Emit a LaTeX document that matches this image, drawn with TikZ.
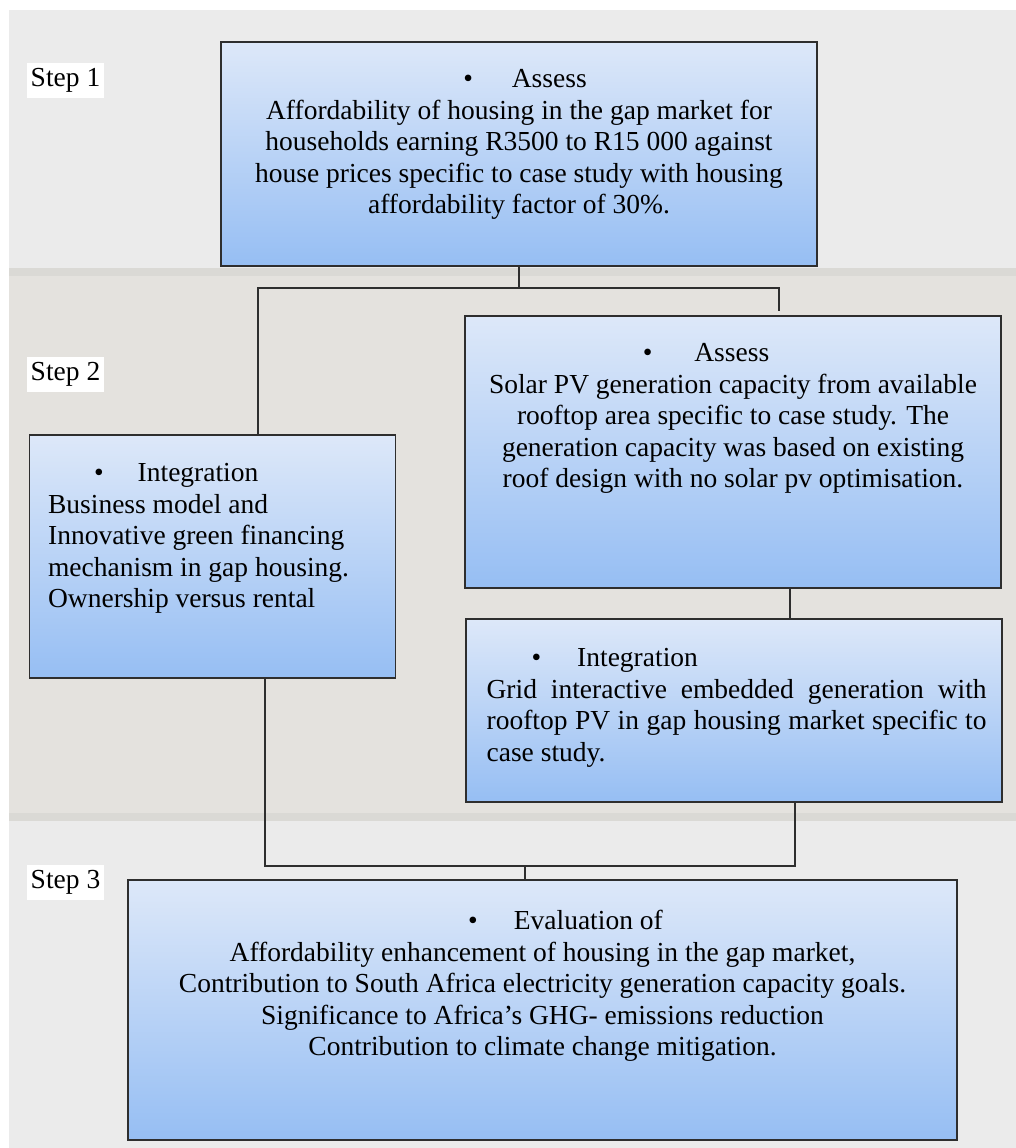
\documentclass[tikz,border=0pt]{standalone}
\usepackage{fontspec}
\setmainfont{Liberation Serif}
\usetikzlibrary{positioning}
\definecolor{bandgrey}{HTML}{EBEBEB}
\definecolor{bandbeige}{HTML}{E4E2DE}
\definecolor{bandedge}{HTML}{DAD9D5}
\definecolor{boxtop}{HTML}{DDE8F9}
\definecolor{boxbot}{HTML}{96BEF3}
\definecolor{linegrey}{HTML}{2E2E2E}

\begin{document}
\begin{tikzpicture}[x=1pt,y=1pt,
  txt/.style={inner sep=0pt,font=\fontsize{27.5}{31.5}\selectfont},
  stepbox/.style={draw=linegrey,line width=1.2pt,top color=boxtop,bottom color=boxbot,inner sep=0pt},
  steplabel/.style={txt,fill=white,inner xsep=3.5pt,minimum height=35pt},
  link/.style={draw=linegrey,line width=1.1pt}]
\useasboundingbox (0,0) rectangle (1016,-1148);
\fill [bandgrey] (9,-10) rectangle (1016,-268);
\fill [bandbeige] (9,-268) rectangle (1016,-820);
\fill [bandgrey] (9,-820) rectangle (1016,-1148);
\fill [bandedge] (9,-268) rectangle (1016,-276);
\fill [bandedge] (9,-813) rectangle (1016,-821);

\node [steplabel] (stepA) at (65.5,-80.5) {Step 1};
\node [steplabel] (stepB) at (65.5,-374) {Step 2};
\node [steplabel] (stepC) at (65.5,-882.5) {Step 3};

\node [stepbox,minimum width=596pt,minimum height=224pt] (assessA) at (519,-154) {};
\node [txt,align=center,below=28pt of assessA.north] (assessAtext) {\mbox{}\hspace{12pt}\textbullet\hspace{39pt}Assess\\Affordability of housing in the gap market for\\households earning R3500 to R15 000 against\\house prices specific to case study with housing\\affordability factor of 30\%.};

\node [stepbox,minimum width=366pt,minimum height=243pt] (integB) at (212.5,-556.5) {};
\node [txt,align=left,below right=29pt and 19pt of integB.north west] (integBtext) {\hspace*{46pt}\textbullet\hspace{34pt}Integration\\Business model and\\Innovative green financing\\mechanism in gap housing.\\Ownership versus rental};

\node [stepbox,minimum width=536pt,minimum height=272pt] (assessB) at (733,-452) {};
\node [txt,align=center,below=28pt of assessB.north] (assessBtext) {\textbullet\hspace{42pt}Assess\hspace{54pt}\mbox{}\\Solar PV generation capacity from available\\rooftop area specific to case study. The\\generation capacity was based on existing\\roof design with no solar pv optimisation.};

\node [stepbox,minimum width=536pt,minimum height=183pt] (integC) at (734,-710.5) {};
\node [txt,align=left,below right=30pt and 21pt of integC.north west] (integCtext) {\hspace*{45pt}\textbullet\hspace{36pt}Integration\\\makebox[500pt][s]{Grid interactive embedded generation with}\\\makebox[500pt][s]{rooftop PV in gap housing market specific to}\\case study.};

\node [stepbox,minimum width=829pt,minimum height=260pt] (evalC) at (542.5,-1010) {};
\node [txt,align=center,below=31pt of evalC.north] (evalCtext) {\mbox{}\hspace{46pt}\textbullet\hspace{36pt}Evaluation of\\Affordability enhancement of housing in the gap market,\\Contribution to South Africa electricity generation capacity goals.\\Significance to Africa's GHG- emissions reduction\\Contribution to climate change mitigation.};

\coordinate (forkL) at (258,-288);
\coordinate (forkR) at (779,-288);
\coordinate (forkEnd) at (779,-311);
\draw [link] (assessA.south) -- (assessA.south |- forkL);
\draw [link] (forkL |- integB.north) -- (forkL) -- (forkR) -- (forkEnd);
\draw [link] ([xshift=57pt]assessB.south) -- ([xshift=57pt]assessB.south |- integC.north);
\coordinate (joinL) at (265,-866);
\coordinate (joinR) at (795,-866);
\coordinate (joinM) at (525,-866);
\draw [link] (integB.south -| joinL) -- (joinL) -- (joinR) -- (integC.south -| joinR);
\draw [link] (joinM) -- (joinM |- evalC.north);
\end{tikzpicture}
\end{document}
